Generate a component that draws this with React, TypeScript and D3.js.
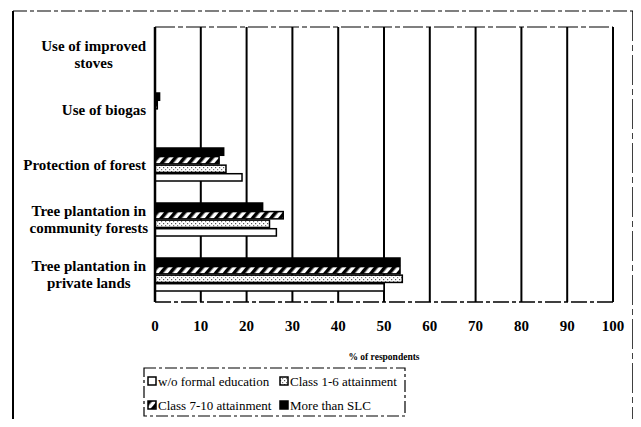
import * as d3 from 'd3';
import { useEffect, useRef } from 'react';

const categories = [
  'Use of improved|stoves',
  'Use of biogas',
  'Protection of forest',
  'Tree plantation in|community forests',
  'Tree plantation in|private lands',
];
const seriesNames = ['w/o formal education', 'Class 1-6 attainment', 'Class 7-10 attainment', 'More than SLC'];
const noFormal = [0, 0, 19, 26.5, 50];
const class16 = [0, 0, 15.5, 25, 54];
const class710 = [0, 0.5, 14, 28, 53.5];
const moreSLC = [0, 1, 15, 23.5, 53.5];
const xTicks = [0, 10, 20, 30, 40, 50, 60, 70, 80, 90, 100];

const W = 641;
const H = 427;
const FONT = '"Liberation Serif", "DejaVu Serif", serif';

export default function App() {
  const svgRef = useRef<SVGSVGElement | null>(null);

  useEffect(() => {
    const svg = d3.select(svgRef.current);
    svg.selectAll('*').remove();

    const margin = { top: 27, left: 155, right: W - 613, bottom: H - 302 };
    const innerW = W - margin.left - margin.right;
    const innerH = H - margin.top - margin.bottom;

    const defs = svg.append('defs');
    const hatch = defs.append('pattern')
      .attr('id', 'hatch')
      .attr('patternUnits', 'userSpaceOnUse')
      .attr('width', 7)
      .attr('height', 7)
      .attr('patternTransform', 'rotate(40)');
    hatch.append('rect').attr('width', 7).attr('height', 7).attr('fill', '#fff');
    hatch.append('rect').attr('width', 3.5).attr('height', 7).attr('fill', '#000');

    const dots = defs.append('pattern')
      .attr('id', 'dots')
      .attr('patternUnits', 'userSpaceOnUse')
      .attr('width', 4)
      .attr('height', 4);
    dots.append('rect').attr('width', 4).attr('height', 4).attr('fill', '#fff');
    dots.append('rect').attr('x', 0).attr('y', 0).attr('width', 1.2).attr('height', 1.2).attr('fill', '#555');
    dots.append('rect').attr('x', 2).attr('y', 2).attr('width', 1.2).attr('height', 1.2).attr('fill', '#777');

    const fills = ['#fff', 'url(#dots)', 'url(#hatch)', '#000'];
    const data = [noFormal, class16, class710, moreSLC];

    // outer frame
    svg.append('line').attr('x1', 13).attr('x2', 13).attr('y1', 11).attr('y2', H)
      .attr('stroke', '#000').attr('stroke-width', 2);
    svg.append('line').attr('x1', 13).attr('x2', 633).attr('y1', 11).attr('y2', 11)
      .attr('stroke', '#000').attr('stroke-width', 1.2).attr('stroke-dasharray', '14,3,4,3');
    svg.append('line').attr('x1', 633).attr('x2', 633).attr('y1', 11).attr('y2', H)
      .attr('stroke', '#000').attr('stroke-width', 1.5).attr('stroke-dasharray', '30,4,6,4');

    const g = svg.append('g').attr('transform', `translate(${margin.left},${margin.top})`);

    const x = d3.scaleLinear().domain([0, 100]).range([0, innerW]);
    const y = d3.scaleBand<string>().domain(categories).range([0, innerH]).paddingInner(0.4).paddingOuter(0.2);
    const inner = d3.scaleBand<number>().domain([3, 2, 1, 0]).range([0, y.bandwidth()]).paddingInner(0.15);

    // plot border
    g.append('line').attr('x1', 0).attr('x2', innerW).attr('y1', 0).attr('y2', 0)
      .attr('stroke', '#000').attr('stroke-width', 1.2).attr('stroke-dasharray', '20,3,5,3');

    // gridlines
    g.selectAll('.grid')
      .data(xTicks.slice(1))
      .enter()
      .append('line')
      .attr('x1', (d) => x(d))
      .attr('x2', (d) => x(d))
      .attr('y1', 0)
      .attr('y2', innerH)
      .attr('stroke', '#000')
      .attr('stroke-width', 2);

    // bars
    categories.forEach((cat, ci) => {
      data.forEach((vals, si) => {
        const v = vals[ci];
        if (v <= 0) return;
        g.append('rect')
          .attr('x', x(0))
          .attr('y', (y(cat) as number) + (inner(si) as number))
          .attr('width', x(v) - x(0))
          .attr('height', inner.bandwidth())
          .attr('fill', fills[si])
          .attr('stroke', '#000')
          .attr('stroke-width', 1.5);
      });
    });

    // axes lines
    g.append('line').attr('x1', 0).attr('x2', 0).attr('y1', 0).attr('y2', innerH)
      .attr('stroke', '#000').attr('stroke-width', 2.5);
    g.append('line').attr('x1', 0).attr('x2', innerW).attr('y1', innerH).attr('y2', innerH)
      .attr('stroke', '#000').attr('stroke-width', 1.5).attr('stroke-dasharray', '16,3,4,3');

    // tick labels
    g.selectAll('.tick')
      .data(xTicks)
      .enter()
      .append('text')
      .attr('x', (d) => x(d))
      .attr('y', innerH + 29)
      .attr('text-anchor', 'middle')
      .style('font-family', FONT)
      .style('font-size', '15px')
      .style('font-weight', 'bold')
      .text((d) => d);

    // category labels
    categories.forEach((cat) => {
      const lines = cat.split('|');
      const cy = (y(cat) as number) + y.bandwidth() / 2 + margin.top;
      const right = margin.left - 9;
      const t = svg.append('text')
        .style('font-family', FONT)
        .style('font-size', '15px')
        .style('font-weight', 'bold');
      const first = t.append('tspan').text(lines[0]);
      const w = (first.node() as SVGTSpanElement).getComputedTextLength();
      const cx = right - w / 2;
      t.attr('text-anchor', 'middle');
      const y0 = cy - ((lines.length - 1) * 17) / 2 + 5;
      lines.forEach((ln, li) => {
        const ts = li === 0 ? first : t.append('tspan');
        ts.attr('x', cx).attr('y', y0 + li * 17).text(ln);
      });
    });

    // axis title
    svg.append('text')
      .attr('x', margin.left + innerW / 2)
      .attr('y', 360)
      .attr('text-anchor', 'middle')
      .style('font-family', FONT)
      .style('font-size', '9.5px')
      .style('font-weight', 'bold')
      .text('% of respondents');

    // legend
    const lg = svg.append('g');
    lg.append('rect')
      .attr('x', 144).attr('y', 368).attr('width', 261).attr('height', 48)
      .attr('fill', '#fff').attr('stroke', '#000').attr('stroke-width', 1.2)
      .attr('stroke-dasharray', '12,3,3,3');
    const legendPos = [[148, 386], [280, 386], [148, 410], [280, 410]];
    seriesNames.forEach((name, i) => {
      const [lx, ly] = legendPos[i];
      lg.append('rect')
        .attr('x', lx).attr('y', ly - 9).attr('width', 8).attr('height', 8)
        .attr('fill', fills[i]).attr('stroke', '#000').attr('stroke-width', 1.5);
      lg.append('text')
        .attr('x', lx + 10).attr('y', ly)
        .style('font-family', FONT)
        .style('font-size', '13px')
        .text(name);
    });
  }, []);

  return (
    <div style={{ width: W, height: H, margin: -8, background: '#fff' }}>
      <svg ref={svgRef} width={W} height={H} />
    </div>
  );
}
